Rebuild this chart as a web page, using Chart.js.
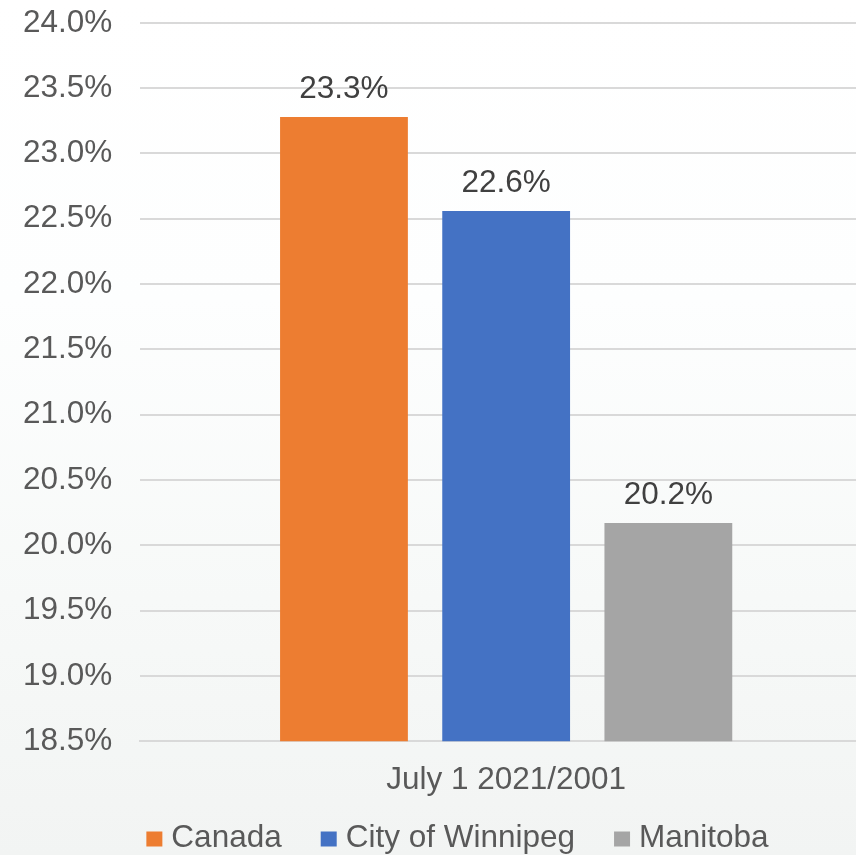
<!DOCTYPE html>
<html>
<head>
<meta charset="utf-8">
<script src="https://cdn.jsdelivr.net/npm/chart.js@4.4.1/dist/chart.umd.min.js"></script>
<style>
  html, body { margin: 0; padding: 0; overflow: hidden; width: 856px; height: 855px; }
  body { position: relative; background: linear-gradient(to bottom, #ffffff 0%, #fdfefe 35%, #f7f9f8 70%, #f2f4f3 100%); }
  #wrap { position: absolute; left: -5px; top: -24px; width: 900px; height: 879px; }
  canvas { display: block; }
</style>
</head>
<body>
<div id="wrap"><canvas id="c" width="900" height="879"></canvas></div>
<script>
const categories = ["July 1 2021/2001"];
const seriesNames = ["Canada", "City of Winnipeg", "Manitoba"];
const canadaValues = [23.28];
const winnipegValues = [22.56];
const manitobaValues = [20.17];
const seriesColors = ["#ED7D31", "#4472C4", "#A5A5A5"];
const yMin = 18.5, yMax = 24.0, yStep = 0.5;

const FONT = "'Liberation Sans', Arial, sans-serif";
const FS = 31.5;

const valueLabels = {
  id: 'valueLabels',
  afterDatasetsDraw(chart) {
    const ctx = chart.ctx;
    ctx.save();
    ctx.font = FS + "px " + FONT;
    ctx.fillStyle = "#404040";
    ctx.textAlign = "center";
    ctx.textBaseline = "alphabetic";
    chart.data.datasets.forEach((ds, i) => {
      const meta = chart.getDatasetMeta(i);
      meta.data.forEach((bar, j) => {
        ctx.fillText(ds.data[j].toFixed(1) + "%", bar.x, bar.y - 19);
      });
    });
    ctx.restore();
  }
};

// legend drawn in the style of the original (box, small gap, text)
const customLegend = {
  id: 'customLegend',
  afterDraw(chart) {
    const ctx = chart.ctx;
    ctx.save();
    ctx.font = FS + "px " + FONT;
    const boxW = 16, boxH = 15, gapText = 9, gapItem = 39;
    const items = chart.data.datasets.map(ds => ({ text: ds.label, color: ds.backgroundColor, w: ctx.measureText(ds.label).width }));
    let total = 0;
    items.forEach((it, i) => { total += boxW + gapText + it.w + (i < items.length - 1 ? gapItem : 0); });
    const cy = 862;
    let x = 462.5 - total / 2;
    items.forEach(it => {
      ctx.fillStyle = it.color;
      ctx.fillRect(x, cy - boxH / 2 + 1, boxW, boxH);
      ctx.fillStyle = "#595959";
      ctx.textAlign = "left";
      ctx.textBaseline = "middle";
      ctx.fillText(it.text, x + boxW + gapText, cy);
      x += boxW + gapText + it.w + gapItem;
    });
    ctx.restore();
  }
};

new Chart(document.getElementById('c'), {
  type: 'bar',
  data: {
    labels: categories,
    datasets: [
      { label: seriesNames[0], data: canadaValues, backgroundColor: seriesColors[0] },
      { label: seriesNames[1], data: winnipegValues, backgroundColor: seriesColors[1] },
      { label: seriesNames[2], data: manitobaValues, backgroundColor: seriesColors[2] }
    ]
  },
  options: {
    responsive: false,
    animation: false,
    devicePixelRatio: 1,
    layout: { padding: { left: 0, right: 23, top: 3, bottom: 36 } },
    datasets: { bar: { categoryPercentage: 0.665, barPercentage: 0.788 } },
    scales: {
      x: {
        grid: { display: false, drawTicks: false },
        border: { display: true, color: "#d9d9d9", width: 2 },
        ticks: { color: "#595959", font: { family: FONT, size: FS }, padding: 20 }
      },
      y: {
        min: yMin, max: yMax,
        border: { display: false },
        grid: { color: "#d9d9d9", lineWidth: 2, drawTicks: false },
        ticks: {
          stepSize: yStep,
          color: "#595959",
          font: { family: FONT, size: FS },
          padding: 28,
          callback: v => v.toFixed(1) + "%"
        }
      }
    },
    plugins: {
      legend: { display: false },
      tooltip: { enabled: false }
    }
  },
  plugins: [valueLabels, customLegend]
});
</script>
</body>
</html>
